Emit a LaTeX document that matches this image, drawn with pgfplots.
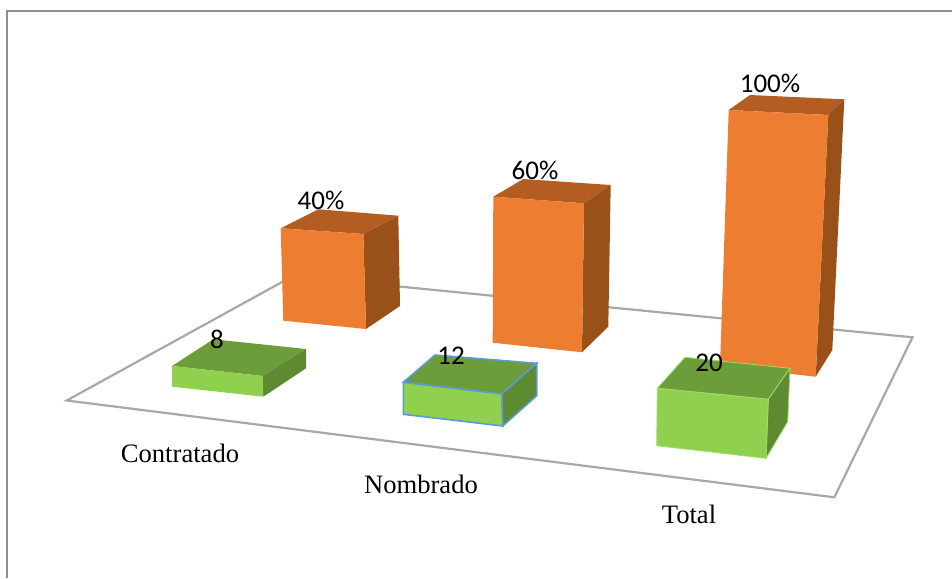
\documentclass[border=0pt]{standalone}
\usepackage{fontspec}
\setmainfont{Liberation Serif}
\newfontfamily\calib{Carlito}
\usepackage{pgfplots}
\pgfplotsset{compat=1.18}
\definecolor{oF}{HTML}{ED7D31}
\definecolor{oT}{HTML}{B45D22}
\definecolor{oS}{HTML}{9A5119}
\definecolor{gF}{HTML}{8FD14F}
\definecolor{gT}{HTML}{6D9C3A}
\definecolor{gS}{HTML}{5E8A31}
\definecolor{gE}{HTML}{A0DC68}
\definecolor{bE}{HTML}{5B9BD5}
\definecolor{fl}{HTML}{A8A8A8}
\definecolor{fr}{HTML}{8E8E8E}
\begin{document}
\begin{tikzpicture}
\begin{axis}[
  width=952pt, height=578pt, scale only axis,
  xmin=0, xmax=952, ymin=0, ymax=578, y dir=reverse,
  hide axis, clip=true,
  axis line style={draw=none}
]
% page background
\addplot[fill=white, draw=white, line width=0pt] coordinates {(0,0) (952,0) (952,578) (0,578)} -- cycle;
% chart frame
\addplot[draw=fr, line width=1.3pt] coordinates {(7,578) (7,11) (952,11)};
% floor
\addplot[draw=fl, line width=2.2pt, line join=miter] coordinates {(66.7,400.5) (293,276) (912.5,337.3) (834.3,497.3)} -- cycle;
% orange bars: top, side, front
\addplot[fill=oT, draw=none] coordinates {(280.7,228.3) (318.3,209.3) (398.3,215.7) (363.3,234)} -- cycle;
\addplot[fill=oS, draw=none] coordinates {(363.3,234) (398.3,215.7) (400,306) (366,329)} -- cycle;
\addplot[fill=oF, draw=none] coordinates {(280.7,228.3) (363.3,234) (366,329) (283.3,320.7)} -- cycle;
\addplot[fill=oT, draw=none] coordinates {(493.3,196.7) (523.3,179) (610.7,185) (584,203.3)} -- cycle;
\addplot[fill=oS, draw=none] coordinates {(584,203.3) (610.7,185) (608.3,326.7) (582,352.3)} -- cycle;
\addplot[fill=oF, draw=none] coordinates {(493.3,196.7) (584,203.3) (582,352.3) (492.7,342.7)} -- cycle;
\addplot[fill=oT, draw=none] coordinates {(728.7,110) (750,95) (844.3,99.3) (828.3,115)} -- cycle;
\addplot[fill=oS, draw=none] coordinates {(828.3,115) (844.3,99.3) (832.3,350) (815.7,376.7)} -- cycle;
\addplot[fill=oF, draw=none] coordinates {(728.7,110) (828.3,115) (815.7,376.7) (720,366)} -- cycle;
% green bars
\addplot[fill=gT, draw=none] coordinates {(172,366) (213.3,339.3) (306,349) (262.7,376)} -- cycle;
\addplot[fill=gS, draw=none] coordinates {(262.7,376) (306,349) (306,368.3) (263.3,396.7)} -- cycle;
\addplot[fill=gF, draw=none] coordinates {(172,366) (262.7,376) (263.3,396.7) (172,386.7)} -- cycle;
\addplot[fill=gT, draw=bE, line width=1.6pt] coordinates {(403.3,382.3) (435,355) (536.7,363.3) (501.7,394)} -- cycle;
\addplot[fill=gS, draw=bE, line width=1.6pt] coordinates {(501.7,394) (536.7,363.3) (536.7,395.7) (502.7,426)} -- cycle;
\addplot[fill=gF, draw=bE, line width=1.6pt] coordinates {(403.3,382.3) (501.7,394) (502.7,426) (403.3,414.3)} -- cycle;
\addplot[fill=gT, draw=gE, line width=0.8pt] coordinates {(657.3,388.3) (685,357.3) (790,368.3) (768.3,399.3)} -- cycle;
\addplot[fill=gS, draw=gE, line width=0.8pt] coordinates {(768.3,399.3) (790,368.3) (787.7,421.7) (766,458.3)} -- cycle;
\addplot[fill=gF, draw=gE, line width=0.8pt] coordinates {(657.3,388.3) (768.3,399.3) (766,458.3) (656.7,445.7)} -- cycle;
% data labels
\addplot[draw=none, mark=none, point meta=explicit symbolic,
  nodes near coords, nodes near coords align={anchor=center},
  every node near coord/.append style={font=\calib\fontsize{27}{29}\selectfont, text=black, inner sep=0pt}]
  coordinates {(321,200) [40\%] (535,170) [60\%] (770,83) [100\%] (217,339) [8] (451,356) [12] (709,363) [20]};
% category labels
\addplot[draw=none, mark=none, point meta=explicit symbolic,
  nodes near coords, nodes near coords align={anchor=center},
  every node near coord/.append style={font=\fontsize{26.6}{28}\selectfont, text=black, inner sep=0pt}]
  coordinates {(180,453) [Contratado] (421,484) [Nombrado] (689,514) [Total]};
\end{axis}
\end{tikzpicture}
\end{document}
